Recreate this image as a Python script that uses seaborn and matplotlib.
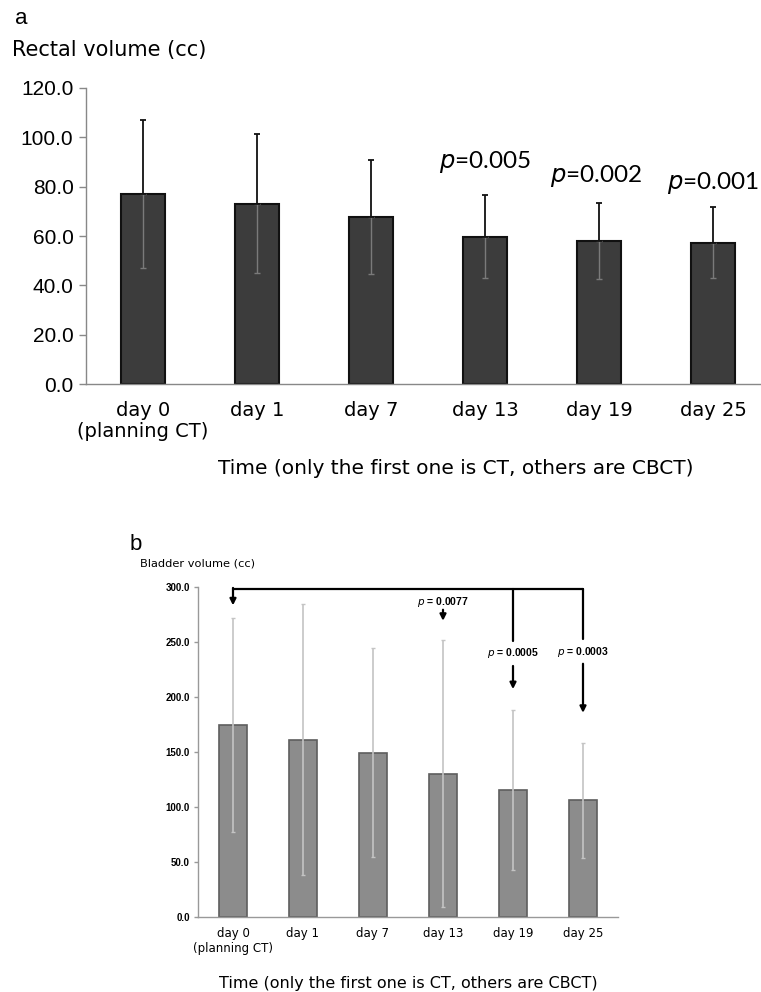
import numpy as np
import pandas as pd
import matplotlib
matplotlib.use("Agg")
import matplotlib.pyplot as plt
import seaborn as sns

# Dữ liệu
days = ["day 0\n(planning CT)", "day 1", "day 7", "day 13", "day 19", "day 25"]

rectal_mean = [77.1, 73.1, 67.7, 59.7, 58.0, 57.3]
rectal_sd = [30.1, 28.3, 23.0, 16.8, 15.4, 14.4]
rectal_p = ["", "", "", "p=0.005", "p=0.002", "p=0.001"]

bladder_mean = [174.5, 161.2, 149.4, 130.3, 115.5, 106.2]
bladder_sd = [97.0, 123.0, 94.5, 121.0, 73.0, 52.0]
bladder_p = ["", "", "", "p = 0.0077", "p = 0.0005", "p = 0.0003"]

df_a = pd.DataFrame({"day": days, "volume": rectal_mean})
df_b = pd.DataFrame({"day": days, "volume": bladder_mean})

sns.set_style("white")
plt.rcParams["font.family"] = ["Liberation Sans", "DejaVu Sans"]
plt.rcParams["text.color"] = "black"
plt.rcParams["axes.labelcolor"] = "black"
plt.rcParams["xtick.labelcolor"] = "black"
plt.rcParams["ytick.labelcolor"] = "black"
jp = ["DejaVu Sans"]

fig = plt.figure(figsize=(7.61, 9.92), dpi=100)

# Panel a: Rectal volume
ax1 = fig.add_axes([86 / 761, 1 - 384 / 992, 675 / 761, 296 / 992])
sns.barplot(data=df_a, x="day", y="volume", ax=ax1, color="#3c3c3c",
            width=0.39, edgecolor="#111111", linewidth=1.5, errorbar=None,
            saturation=1)
x = np.arange(len(days))
ax1.errorbar(x, rectal_mean, yerr=[rectal_sd, np.zeros(len(x))], fmt="none",
             ecolor="#7a7a7a", elinewidth=1.0, capsize=2, capthick=1.0)
ax1.errorbar(x, rectal_mean, yerr=[np.zeros(len(x)), rectal_sd], fmt="none",
             ecolor="#111111", elinewidth=1.3, capsize=2, capthick=1.3)
ax1.set_xlim(-0.5, 5.42)
ax1.set_ylim(0, 120)
ax1.set_yticks(np.arange(0, 121, 20))
ax1.set_yticklabels([f"{v:.1f}" for v in np.arange(0, 121, 20)], fontsize=15)
ax1.set_xticks(x)
ax1.set_xticklabels(days, fontsize=14, family=jp, linespacing=1.15)
ax1.set_xticks(np.arange(0.5, 5.0, 1), minor=True)
ax1.tick_params(axis="x", which="major", length=0, pad=12)
ax1.tick_params(axis="x", which="minor", length=4, color="#888888", width=1)
ax1.tick_params(axis="y", length=5, color="#888888", width=1, pad=4, left=True)
ax1.set_ylabel("")
ax1.set_xlabel("Time (only the first one is CT, others are CBCT)",
               fontsize=14.5, family=jp, labelpad=13, x=(456 - 86) / 675)
for s in ["top", "right"]:
    ax1.spines[s].set_visible(False)
for s in ["left", "bottom"]:
    ax1.spines[s].set_color("#888888")
    ax1.spines[s].set_linewidth(1)
p_x_a = [0, 0, 0, 3.0, 3.97, 5.0]
p_y_a = [0, 0, 0, 90, 84.3, 81.5]
for i, lab in enumerate(rectal_p):
    if lab:
        ax1.text(p_x_a[i], p_y_a[i], r"$\it{p}$" + lab[1:], ha="center",
                 va="center", fontsize=17.5, family="Lato", clip_on=False)

fig.text(15 / 761, 1 - 18 / 992, "a", fontsize=16, va="center")
fig.text(12 / 761, 1 - 50 / 992, "Rectal volume (cc)", fontsize=15,
         family=jp, va="center")

# Panel b: Bladder volume
ax2 = fig.add_axes([198 / 761, 1 - 917.3 / 992, 420 / 761, 330.7 / 992])
sns.barplot(data=df_b, x="day", y="volume", ax=ax2, color="#8c8c8c",
            width=0.39, edgecolor="#5e5e5e", linewidth=1.2, errorbar=None,
            saturation=1)
ax2.errorbar(x, bladder_mean, yerr=bladder_sd, fmt="none", ecolor="#c4c4c4",
             elinewidth=1.2, capsize=1.5, capthick=1.0)
ax2.set_xlim(-0.5, 5.5)
ax2.set_ylim(0, 300)
ax2.set_yticks(np.arange(0, 301, 50))
ax2.set_yticklabels([f"{v:.1f}" for v in np.arange(0, 301, 50)], fontsize=7,
                    fontweight="bold")
ax2.set_xticks(x)
ax2.set_xticklabels(days, fontsize=8.5, family=jp, linespacing=1.2)
ax2.set_xticks(np.arange(0.5, 6.0, 1), minor=True)
ax2.tick_params(axis="x", which="major", length=0, pad=7)
ax2.tick_params(axis="x", which="minor", length=3, color="#999999", width=1)
ax2.tick_params(axis="y", length=3, color="#999999", width=1, pad=3, left=True)
ax2.set_ylabel("")
ax2.set_xlabel("Time (only the first one is CT, others are CBCT)",
               fontsize=11.5, family=jp, labelpad=15)
for s in ["top", "right"]:
    ax2.spines[s].set_visible(False)
for s in ["left", "bottom"]:
    ax2.spines[s].set_color("#999999")
    ax2.spines[s].set_linewidth(1)

# khung so sánh p-value
arrow = dict(arrowstyle="-|>", color="black", lw=1.6, mutation_scale=9,
             shrinkA=0, shrinkB=0)
ax2.plot([0, 5], [298, 298], color="black", lw=1.6, clip_on=False)
ax2.annotate("", xy=(0, 283), xytext=(0, 298.8), arrowprops=arrow,
             annotation_clip=False)
ax2.plot([4, 4], [298, 251], color="black", lw=1.6)
ax2.plot([5, 5], [298, 252.5], color="black", lw=1.6)
p_y_b = [0, 0, 0, 286.4, 239.8, 240.7]
arr_b = [None, None, None, (279, 269), (228, 207), (230, 185.5)]
for i, lab in enumerate(bladder_p):
    if lab:
        ax2.text(i, p_y_b[i], r"$\mathbf{\mathit{p}}$" + lab[1:], ha="center",
                 va="center", fontsize=7.5, fontweight="bold")
        ax2.annotate("", xy=(i, arr_b[i][1]), xytext=(i, arr_b[i][0]),
                     arrowprops=arrow)

fig.text(130 / 761, 1 - 545 / 992, "b", fontsize=16, va="center")
fig.text(140 / 761, 1 - 564 / 992, "Bladder volume (cc)", fontsize=8.2,
         family=jp, va="center")

fig.savefig("out.png", dpi=100)
